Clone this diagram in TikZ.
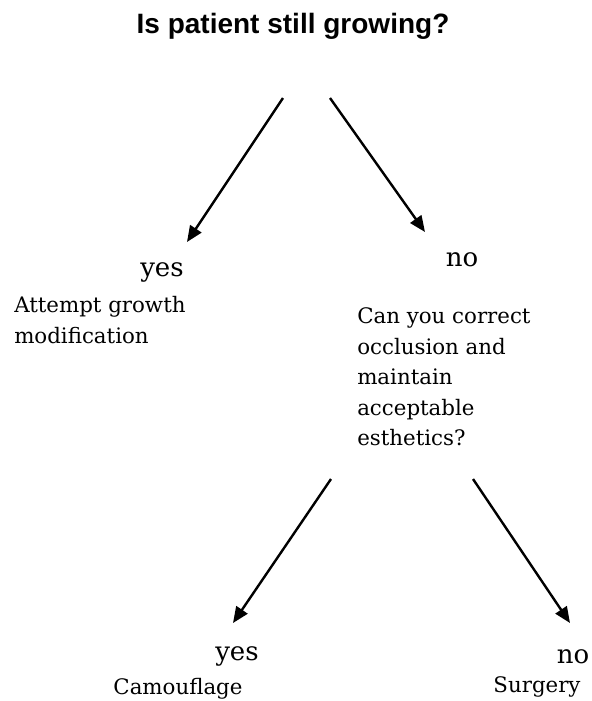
\documentclass[tikz,border=0pt]{standalone}
\usepackage{fontspec}
\usepackage{amsmath,amssymb,graphicx,xcolor,tikz}
\usetikzlibrary{arrows.meta}
\setmainfont{DejaVu Serif}
\newfontfamily\titlefont{Liberation Sans}

\begin{document}
\begin{tikzpicture}[x=0.75pt,y=0.75pt,yscale=-1,xscale=1,
  answer/.style={inner sep=0pt,font=\fontsize{19.5}{22}\selectfont},
  note/.style={inner sep=0pt,align=left,font=\fontsize{16}{22.8}\selectfont},
  pointer/.style={line width=1.8pt,-{Triangle[length=12pt,width=10pt]}}]

\useasboundingbox (0,0) rectangle (592,701);

\node (title) [anchor=base,inner sep=0pt,font=\titlefont\bfseries\fontsize{21}{25}\selectfont] at (293,33) {Is patient still growing?};

\node (yesgrow) [answer] at (162,272) {yes};
\node (growth) [note,anchor=west] at (14,320) {Attempt growth\\modification};

\node (nogrow) [answer] at (462,260) {no};
\node (ask) [note,anchor=west] at (357,377) {Can you correct\\occlusion and\\maintain\\acceptable\\esthetics?};

\node (yesok) [answer] at (237,656) {yes};
\node (camo) [note] at (178,689) {Camouflage};

\node (nook) [answer] at (573,657) {no};
\node (surg) [note] at (537,687) {Surgery};

\coordinate (t1) at (283,98);
\coordinate (h1) at (187,242);
\coordinate (t2) at (330,98);
\coordinate (h2) at (425,232);
\coordinate (t3) at (331,479);
\coordinate (h3) at (233,623);
\coordinate (t4) at (473,479);
\coordinate (h4) at (570,623);

\draw [pointer] (t1) -- (h1);
\draw [pointer] (t2) -- (h2);
\draw [pointer] (t3) -- (h3);
\draw [pointer] (t4) -- (h4);

\end{tikzpicture}
\end{document}
